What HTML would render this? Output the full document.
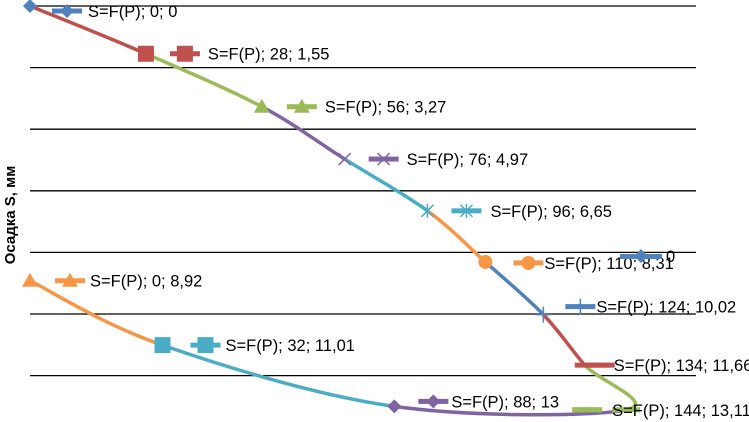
<!DOCTYPE html>
<html><head><meta charset="utf-8"><style>
html,body{margin:0;padding:0;background:#fff;}
svg{display:block;font-family:"Liberation Sans",Arial,sans-serif;}
</style></head><body>
<svg id="chart" width="749" height="422" viewBox="0 0 749 422" xmlns="http://www.w3.org/2000/svg">
<g id="grid"></g>
<text transform="translate(15,215) rotate(-90)" text-anchor="middle" font-size="15" font-weight="bold" fill="#000">Осадка S, мм</text>
<g id="series"></g>
<g id="labels"></g>
</svg>
<script>
// data: loading then unloading path
const loads = [0, 28, 56, 76, 96, 110, 124, 134, 144, 88, 32, 0];
const settlements = [0, 1.55, 3.27, 4.97, 6.65, 8.31, 10.02, 11.66, 13.11, 13, 11.01, 8.92];
const gridTicks = [0, 2, 4, 6, 8, 10, 12];

const xScale = p => 30 + p * 4.14;
const yScale = s => 6 + s * 30.8;
const colors = ['#4f81bd','#c0504d','#9bbb59','#8064a2','#4bacc6','#f79646'];
const NS = 'http://www.w3.org/2000/svg';
function mk(tag, attrs, parent){const e=document.createElementNS(NS,tag);for(const k in attrs)e.setAttribute(k,attrs[k]);parent.appendChild(e);return e;}

const grid = document.getElementById('grid');
gridTicks.forEach(t=>{
  const l = mk('line',{x1:30,x2:696,y1:yScale(t),y2:yScale(t),stroke:'#000','stroke-width':1.3},grid);
  
  
});

const pts = loads.map((p,i)=>[xScale(p), yScale(settlements[i])]);
const ser = document.getElementById('series');
for(let i=0;i<pts.length-1;i++){
  const p0=pts[Math.max(0,i-1)], p1=pts[i], p2=pts[i+1], p3=pts[Math.min(pts.length-1,i+2)];
  const t=1/6;
  const c1=[p1[0]+(p2[0]-p0[0])*t, p1[1]+(p2[1]-p0[1])*t];
  const c2=[p2[0]-(p3[0]-p1[0])*t, p2[1]-(p3[1]-p1[1])*t];
  const path = mk('path',{d:`M${p1[0]},${p1[1]} C${c1[0]},${c1[1]} ${c2[0]},${c2[1]} ${p2[0]},${p2[1]}`,fill:'none',stroke:colors[(i+1)%6],'stroke-width':3.5},ser);
  
  
}

function marker(type,x,y,col,parent){
  const g = mk('g',{},parent);
  if(type==='diamond') mk('path',{d:`M${x},${y-7}L${x+7},${y}L${x},${y+7}L${x-7},${y}Z`,fill:col},g);
  else if(type==='square') mk('rect',{x:x-8,y:y-8,width:16,height:16,fill:col},g);
  else if(type==='triangle') mk('path',{d:`M${x},${y-8}L${x+8},${y+6}L${x-8},${y+6}Z`,fill:col},g);
  else if(type==='x'){mk('path',{d:`M${x-6},${y-6}L${x+6},${y+6}M${x-6},${y+6}L${x+6},${y-6}`,stroke:col,'stroke-width':1.5},g);}
  else if(type==='star'){mk('path',{d:`M${x-6},${y-6}L${x+6},${y+6}M${x-6},${y+6}L${x+6},${y-6}M${x},${y-7}L${x},${y+7}`,stroke:col,'stroke-width':1.5},g);}
  else if(type==='circle') mk('circle',{cx:x,cy:y,r:7,fill:col},g);
  else if(type==='plus'){mk('path',{d:`M${x-8},${y}L${x+8},${y}M${x},${y-8}L${x},${y+8}`,stroke:col,'stroke-width':1.5},g);}
  else if(type==='dash') mk('rect',{x:x-10,y:y-2.5,width:20,height:5,fill:col},g);
  else if(type==='longdash') mk('rect',{x:x-14,y:y-2.5,width:28,height:5,fill:col},g);
  return g;
}
const mtypes=['diamond','square','triangle','x','star','circle','plus','dash','longdash','diamond','square','triangle'];
// label layout offsets (px): key start dx, text dx, dy
const keyDx=[22,24,25,24,24,28,22,0,-54,24,28,25];
const txtDx=[58,62,63,62,63,59,53,29,-14,57,63,60];
const lblDy=[5,0,0,0,0,1,-8,0,0,-5,0,0];
const lab=document.getElementById('labels');
pts.forEach((p,i)=>{
  const col=colors[i%6];
  const m=marker(mtypes[i],p[0],p[1],col,ser);
  
  
  const ky=p[1]+lblDy[i];
  const kx=p[0]+keyDx[i];
  const key=mk('g',{},lab);
  
  
  mk('rect',{x:kx,y:ky-2.5,width:30,height:5,fill:col},key);
  marker(mtypes[i],kx+15,ky,col,key);
  const tx=mk('text',{x:p[0]+txtDx[i],y:ky+6,'font-size':16.5,fill:'#000'},lab);
  tx.textContent=`S=F(P); ${loads[i]}; ${String(settlements[i]).replace('.',',')}`;
  
  
});
// stray legend fragment
const st=mk('g',{},lab);


mk('rect',{x:620,y:254,width:42,height:5,fill:'#4f81bd'},st);
marker('diamond',641,256,'#4f81bd',st);
const z=mk('text',{x:666,y:262,'font-size':16.5,fill:'#000'},st);z.textContent='0';
</script>
</body></html>
